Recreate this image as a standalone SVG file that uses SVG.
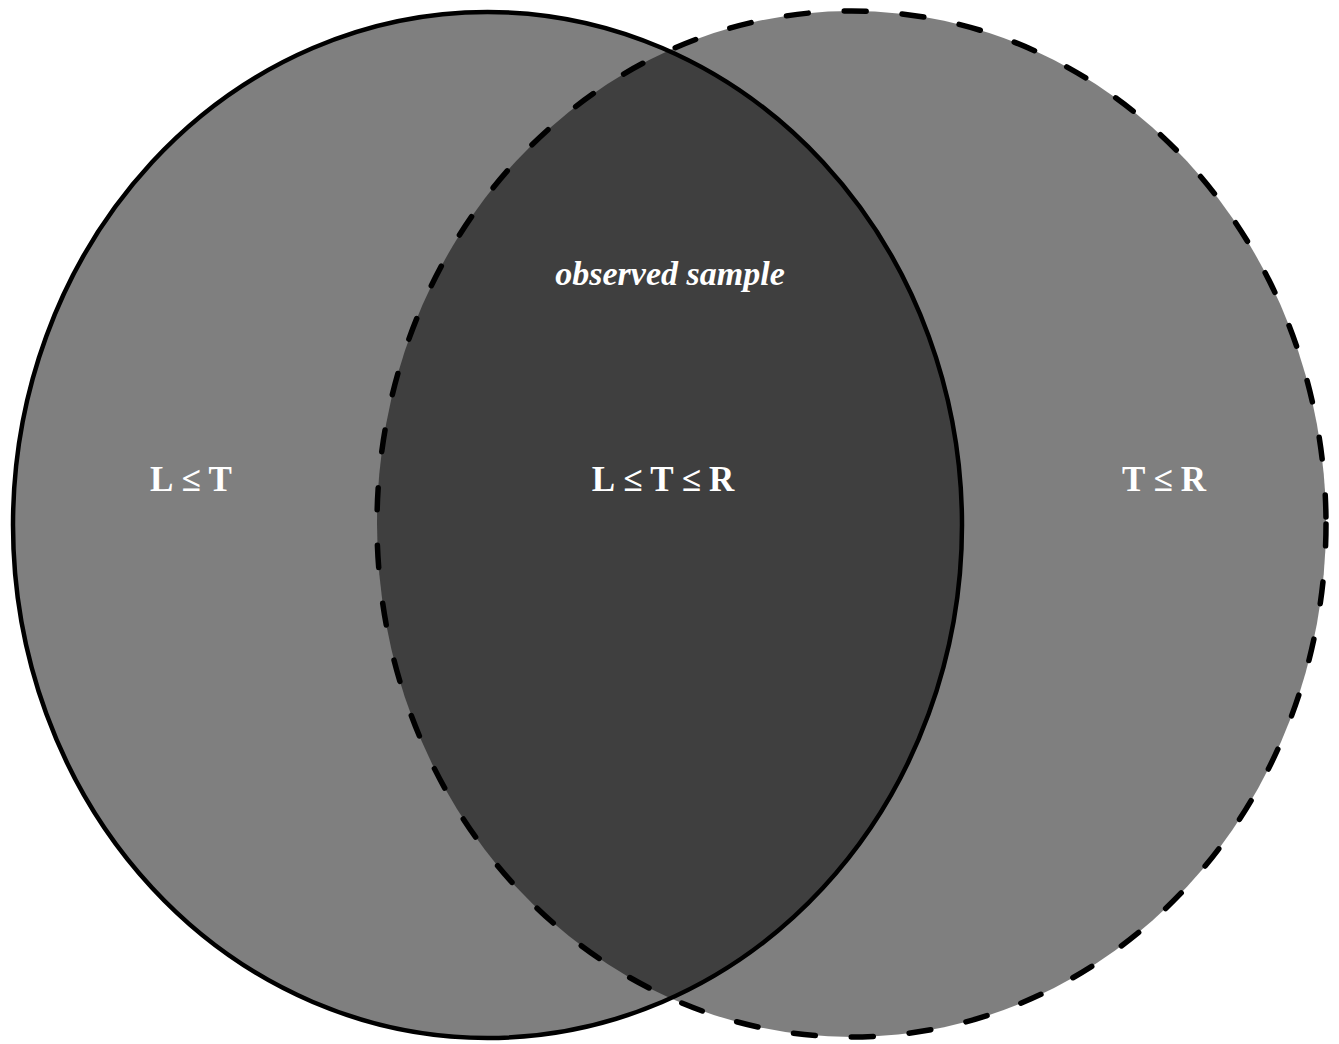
<svg xmlns="http://www.w3.org/2000/svg" width="1339" height="1044" viewBox="0 0 1339 1044">
<style>
.set{fill:#000;fill-opacity:0.5;stroke:#000;stroke-width:4.5}
.dash{stroke-width:5.5;stroke-dasharray:22 36;stroke-linecap:round}
.lbl{font-family:"Liberation Serif",serif;font-weight:bold;fill:#fff;text-anchor:middle}
.rel{letter-spacing:8px}
</style>
<rect width="1339" height="1044" fill="#fff"/>
<g id="setL"><ellipse class="set" cx="487.5" cy="525" rx="474.5" ry="513"/></g>
<g id="setR"><ellipse class="set dash" cx="851.5" cy="524" rx="474.5" ry="513"/></g>
<g id="connectors"></g>
<g id="labels">
<text class="lbl" x="670" y="285" font-size="34" font-style="italic">observed sample</text>
<text class="lbl rel" x="667" y="491" font-size="35">L≤T≤R</text>
<text class="lbl rel" x="195" y="491" font-size="35">L≤T</text>
<text class="lbl rel" x="1168" y="491" font-size="35">T≤R</text>
</g>
</svg>
